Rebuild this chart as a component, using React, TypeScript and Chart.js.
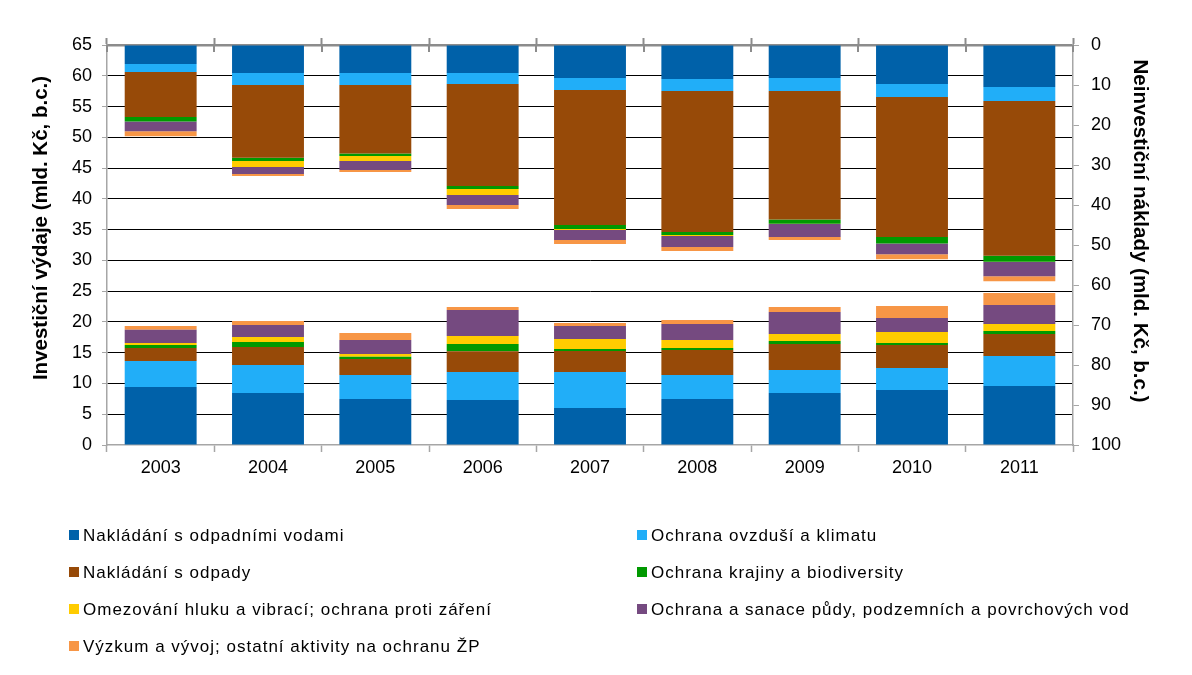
import React, { useEffect, useRef } from 'react';
import { Chart, registerables } from 'chart.js';

Chart.register(...registerables);

// ---- data ----
const categories = ['2003', '2004', '2005', '2006', '2007', '2008', '2009', '2010', '2011'];

const seriesNames = [
  'Nakládání s odpadními vodami',
  'Ochrana ovzduší a klimatu',
  'Nakládání s odpady',
  'Ochrana krajiny a biodiversity',
  'Omezování hluku a vibrací; ochrana proti záření',
  'Ochrana a sanace půdy, podzemních a povrchových vod',
  'Výzkum a vývoj; ostatní aktivity na ochranu ŽP',
];

const seriesColors = ['#0061A9', '#21AEF8', '#974A08', '#009900', '#FFCC00', '#754A80', '#F79646'];

// Investiční výdaje (left axis, mld. Kč)
const invWastewater = [9.42, 8.45, 7.47, 7.31, 6.01, 7.47, 8.45, 8.94, 9.59];
const invAir = [4.23, 4.55, 3.9, 4.55, 5.85, 3.9, 3.74, 3.57, 4.87];
const invWaste = [2.11, 2.92, 2.6, 3.36, 3.41, 4.07, 4.22, 3.74, 3.58];
const invLandscape = [0.49, 0.82, 0.38, 1.19, 0.33, 0.32, 0.49, 0.32, 0.48];
const invNoise = [0.32, 0.81, 0.44, 1.3, 1.62, 1.3, 1.14, 1.79, 1.14];
const invSoil = [2.17, 1.95, 2.27, 4.23, 2.12, 2.6, 3.57, 2.28, 3.09];
const invResearch = [0.6, 0.65, 1.14, 0.48, 0.48, 0.65, 0.81, 1.95, 1.95];

// Neinvestiční náklady (right axis, reversed, mld. Kč)
const nonWastewater = [4.75, 7.0, 7.0, 7.0, 8.25, 8.5, 8.25, 9.75, 10.5];
const nonAir = [2.0, 3.0, 3.0, 2.75, 3.0, 3.0, 3.25, 3.25, 3.5];
const nonWaste = [11.25, 18.2, 17.1, 25.5, 33.75, 35.25, 32.1, 35.0, 38.7];
const nonLandscape = [1.1, 0.8, 0.65, 0.75, 1.0, 0.75, 1.1, 1.6, 1.5];
const nonNoise = [0.05, 1.5, 1.25, 1.5, 0.25, 0.25, 0.05, 0.05, 0.05];
const nonSoil = [2.4, 1.75, 2.25, 2.5, 2.5, 2.75, 3.25, 2.65, 3.55];
const nonResearch = [1.25, 0.5, 0.5, 1.0, 1.0, 1.0, 0.75, 1.25, 1.25];

const leftTitle = 'Investiční výdaje (mld. Kč, b.c.)';
const rightTitle = 'Neinvestiční náklady (mld. Kč, b.c.)';

const FONT = '"Liberation Sans", Arial, sans-serif';
const AXIS_GRAY = '#8C8C8C';

const decorPlugin = {
  id: 'decor',
  afterDraw(chart: any) {
    const ctx = chart.ctx as CanvasRenderingContext2D;
    const { left, right, top } = chart.chartArea;
    ctx.save();

    // inner half of the crossing tick marks on the top category axis
    ctx.strokeStyle = AXIS_GRAY;
    ctx.lineWidth = 2;
    const n = categories.length;
    for (let i = 0; i <= n; i++) {
      const x = Math.round(left + ((right - left) * i) / n);
      ctx.beginPath();
      ctx.moveTo(x, top);
      ctx.lineTo(x, top + 7);
      ctx.stroke();
    }

    // axis titles
    ctx.fillStyle = '#000';
    ctx.font = `bold 20.5px ${FONT}`;
    ctx.textAlign = 'center';
    ctx.textBaseline = 'middle';
    ctx.save();
    ctx.translate(41, 228);
    ctx.rotate(-Math.PI / 2);
    ctx.fillText(leftTitle, 0, 0);
    ctx.restore();
    ctx.save();
    ctx.translate(1140, 231);
    ctx.rotate(Math.PI / 2);
    ctx.fillText(rightTitle, 0, 0);
    ctx.restore();

    // legend (two columns)
    ctx.font = `17px ${FONT}`;
    (ctx as any).letterSpacing = '1px';
    ctx.textAlign = 'left';
    ctx.textBaseline = 'middle';
    seriesNames.forEach((name, i) => {
      const col = i % 2;
      const row = Math.floor(i / 2);
      const mx = col === 0 ? 69 : 637;
      const cy = 535 + row * 37;
      ctx.fillStyle = seriesColors[i];
      ctx.fillRect(mx, cy - 5, 10, 10);
      ctx.fillStyle = '#000';
      ctx.fillText(name, mx + 14, cy + 1);
    });
    ctx.restore();
  },
};

export default function App() {
  const canvasRef = useRef<HTMLCanvasElement>(null);

  useEffect(() => {
    const canvas = canvasRef.current;
    if (!canvas) return;

    const invSeries = [invWastewater, invAir, invWaste, invLandscape, invNoise, invSoil, invResearch];
    const nonSeries = [nonWastewater, nonAir, nonWaste, nonLandscape, nonNoise, nonSoil, nonResearch];

    const common = {
      grouped: false,
      barPercentage: 0.67,
      categoryPercentage: 1,
      borderWidth: 0,
      xAxisID: 'x',
    };

    const datasets: any[] = [
      ...invSeries.map((d, i) => ({
        ...common,
        label: seriesNames[i],
        data: d,
        backgroundColor: seriesColors[i],
        yAxisID: 'y',
        stack: 'inv',
      })),
      ...nonSeries.map((d, i) => ({
        ...common,
        label: seriesNames[i] + ' (neinvestiční)',
        data: d,
        backgroundColor: seriesColors[i],
        yAxisID: 'y2',
        stack: 'non',
      })),
    ];

    const chart = new Chart(canvas, {
      type: 'bar',
      data: { labels: categories, datasets },
      options: {
        responsive: false,
        animation: false,
        devicePixelRatio: 1,
        layout: { padding: { left: 0, right: 0, top: 38, bottom: 190 } },
        plugins: {
          legend: { display: false },
          tooltip: { enabled: false },
          title: { display: false },
        },
        scales: {
          x: {
            type: 'category',
            position: 'bottom',
            offset: true,
            grid: {
              offset: true,
              drawOnChartArea: false,
              drawTicks: true,
              tickLength: 7,
              tickColor: '#A6A6A6',
              tickWidth: 1.5,
            },
            border: { color: '#A6A6A6', width: 1.5 },
            ticks: { color: '#000', font: { family: FONT, size: 18 }, padding: 5, maxRotation: 0 },
            afterFit: (s: any) => {
              s.height = 40;
            },
          },
          x2: {
            type: 'category',
            position: 'top',
            offset: true,
            grid: {
              offset: true,
              drawOnChartArea: false,
              drawTicks: true,
              tickLength: 7,
              tickColor: AXIS_GRAY,
              tickWidth: 2,
            },
            border: { color: AXIS_GRAY, width: 2.5 },
            ticks: { display: false },
            afterFit: (s: any) => {
              s.height = 7;
            },
          },
          y: {
            type: 'linear',
            position: 'left',
            stacked: true,
            min: 0,
            max: 65,
            ticks: {
              stepSize: 5,
              color: '#000',
              font: { family: FONT, size: 18 },
              padding: 10,
            },
            grid: {
              color: (c: any) =>
                c.tick && (c.tick.value === 0 || c.tick.value === 65) ? 'rgba(0,0,0,0)' : '#000',
              lineWidth: 1,
              drawTicks: true,
              tickLength: 5,
              tickColor: '#A6A6A6',
            },
            border: { color: '#A6A6A6', width: 1.5 },
            afterFit: (s: any) => {
              s.width = 107;
            },
          },
          y2: {
            type: 'linear',
            position: 'right',
            stacked: true,
            reverse: true,
            min: 0,
            max: 100,
            ticks: {
              stepSize: 10,
              color: '#000',
              font: { family: FONT, size: 18 },
              padding: 12,
            },
            grid: {
              drawOnChartArea: false,
              drawTicks: true,
              tickLength: 6,
              tickColor: '#A6A6A6',
            },
            border: { color: '#A6A6A6', width: 1.5 },
            afterFit: (s: any) => {
              s.width = 119;
            },
          },
        },
      } as any,
      plugins: [decorPlugin],
    });

    return () => {
      chart.destroy();
    };
  }, []);

  return (
    <div style={{ position: 'absolute', left: 0, top: 0, width: 1192, height: 675, background: '#fff' }}>
      <canvas ref={canvasRef} width={1192} height={675} style={{ display: 'block', width: 1192, height: 675 }} />
    </div>
  );
}
